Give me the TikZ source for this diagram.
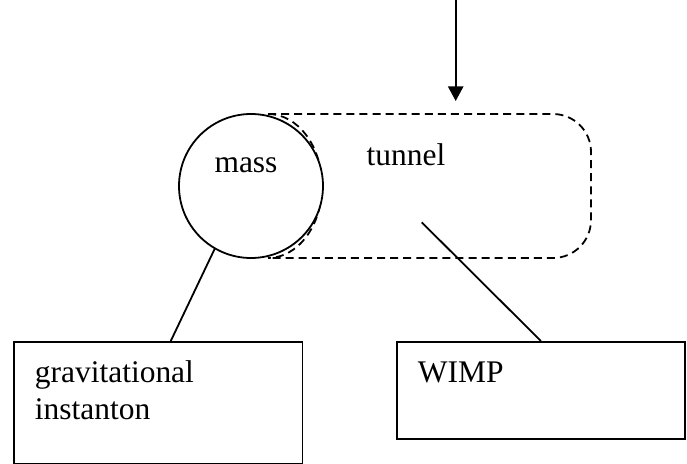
\documentclass[tikz,border=0pt]{standalone}
\usepackage{fontspec}
\setmainfont{Liberation Serif}
\usetikzlibrary{arrows.meta}

\begin{document}
\begin{tikzpicture}[x=0.75pt,y=-0.75pt,line width=1.35pt,
    font=\fontsize{23.6}{27.2}\selectfont,
    massnode/.style={circle,draw,fill=white,inner sep=0pt,minimum size=108pt},
    tunnelline/.style={dash pattern=on 6pt off 3.8pt,rounded corners=28.5pt},
    labelbox/.style={rectangle,draw,anchor=north west,align=left,inner xsep=15.75pt,inner ysep=0pt,text height=30.75pt}]
  \path[use as bounding box] (0,0) rectangle (687,464);
  \path
  (268,114) coordinate (ttop)
  (591,114) coordinate (tne)
  (591,258) coordinate (tse)
  (268,258) coordinate (tbot)
  (455.7,0) coordinate (src)
  (455.7,101) coordinate (hit)
  (421.7,222.3) coordinate (tin)

  (406,155) node (tunnellabel) {tunnel}

  (13,341) node[labelbox,text width=185pt,text depth=60.75pt] (grav) {gravitational\\instanton}
  (396,341) node[labelbox,text width=184.5pt,text depth=42pt] (wimp) {WIMP}
  ;
  \draw[tunnelline] (ttop) -- (tne) -- (tse) -- (tbot);
  \draw[tunnelline] (ttop) arc[start angle=90,end angle=-90,x radius=40.5pt,y radius=54pt];
  \path (251,186) node[massnode] (mass) {}
  (246,165) node (masslabel) {mass};
  \draw[-{Triangle[width=11.5pt,length=11pt]}] (src) -- (hit);
  \draw (mass.240) -- ([xshift=9.4pt]grav.north);
  \draw (tin) -- (wimp.north);
\end{tikzpicture}
\end{document}
